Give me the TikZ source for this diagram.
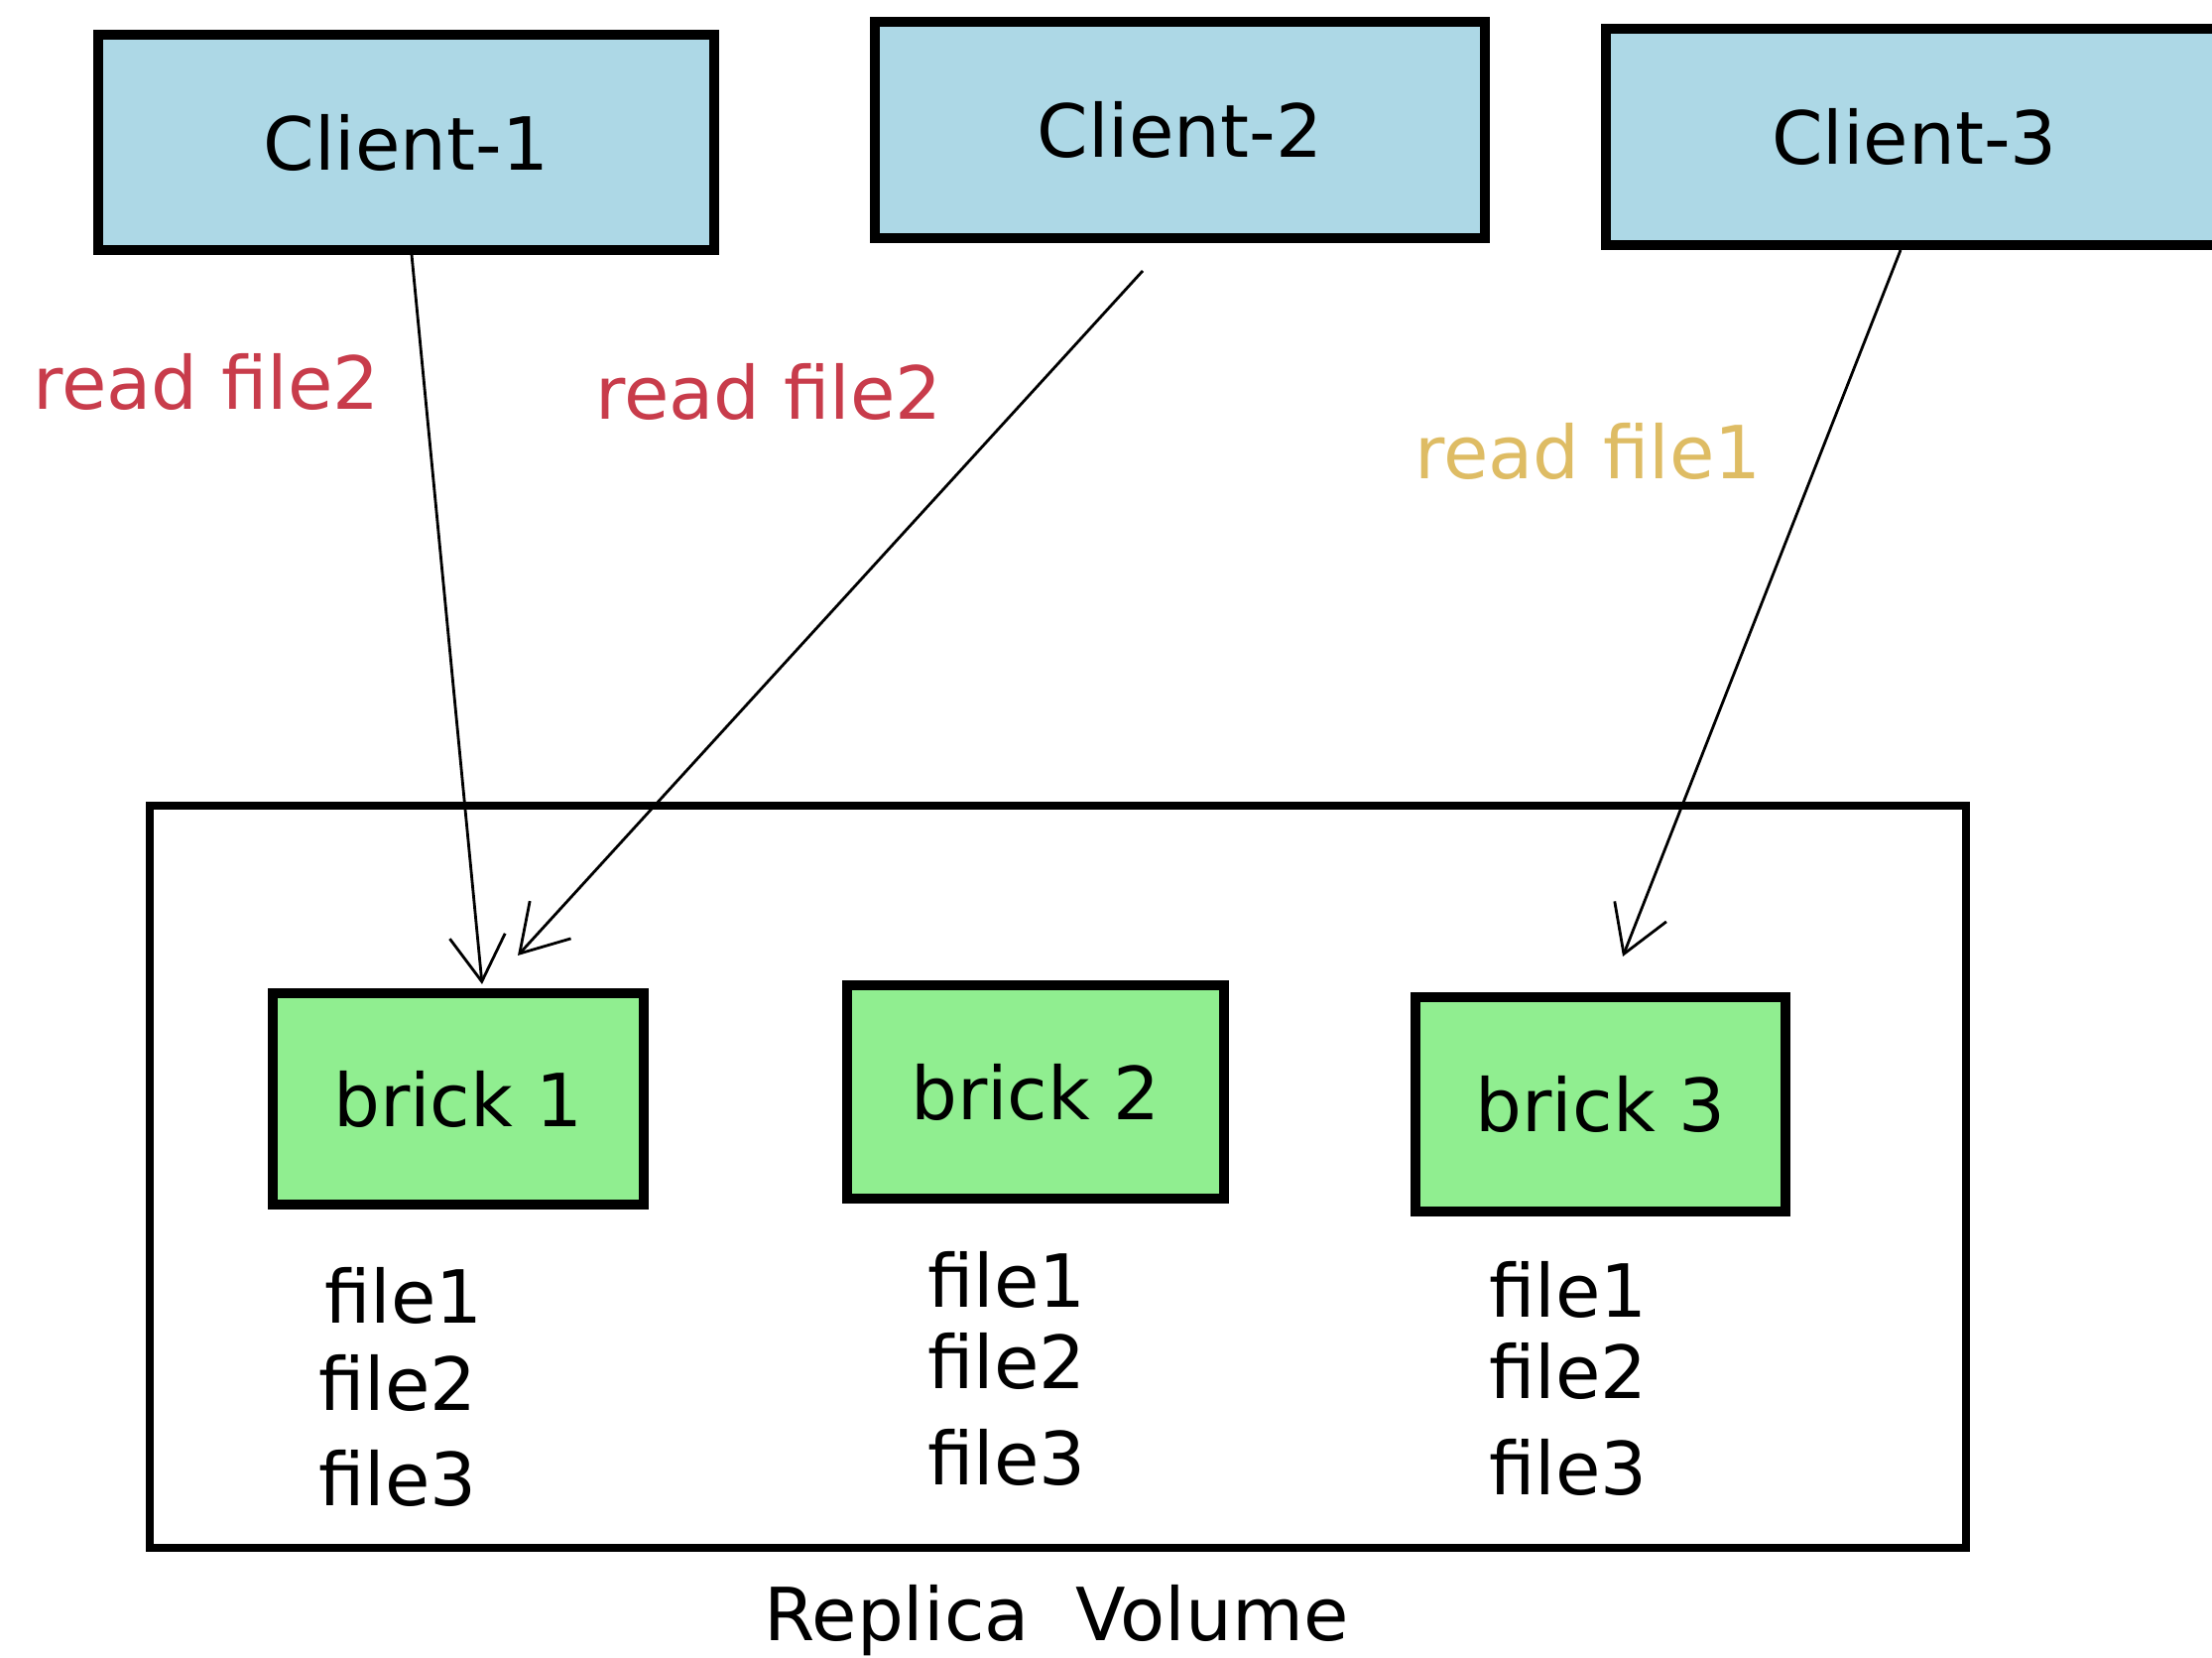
\documentclass[tikz,border=0pt]{standalone}
\usepackage{fontspec}
\setmainfont{DejaVu Sans}
\usetikzlibrary{arrows.meta,calc}
\definecolor{clientblue}{RGB}{173,216,230}
\definecolor{brickgreen}{RGB}{144,238,144}
\definecolor{readred}{RGB}{200,60,75}
\definecolor{readgold}{RGB}{222,188,100}
\begin{document}
\begin{tikzpicture}[x=0.01cm,y=-0.01cm,
  txt/.style={font=\fontsize{21}{25}\selectfont, inner sep=0pt},
  client/.style={txt, draw=black, line width=0.1cm, fill=clientblue, minimum height=2.16cm},
  brick/.style={txt, draw=black, line width=0.1cm, fill=brickgreen},
  volume/.style={draw=black, line width=0.08cm},
  conn/.style={line width=0.028cm, -{Straight Barb[length=0.46cm,width=0.56cm,line width=0.028cm]}},
  lbl/.style={txt}
]
\useasboundingbox (0,0) rectangle (2230,1671);
\clip (0,0) rectangle (2230,1671);

% clients
\node[client, minimum width=6.21cm] (c1) at (409.5,143.5) {Client-1};
\node[client, minimum width=6.15cm, minimum height=2.18cm] (c2) at (1189.5,131) {Client-2};
\node[client, minimum width=6.22cm, minimum height=2.18cm] (c3) at (1930,138) {Client-3};

% replica volume
\node[volume, minimum width=18.29cm, minimum height=7.48cm, inner sep=0pt] (vol) at (1066.5,1186) {};

% bricks
\node[brick, minimum width=3.74cm, minimum height=2.13cm] (b1) at (462,1107.5) {brick 1};
\node[brick, minimum width=3.80cm, minimum height=2.15cm] (b2) at (1044,1100.5) {brick 2};
\node[brick, minimum width=3.73cm, minimum height=2.16cm] (b3) at (1613.5,1113) {brick 3};

% file lists
\node[txt] (f11) at (407,1306) {file1};
\node[txt] (f12) at (401,1394) {file2};
\node[txt] (f13) at (401,1490) {file3};
\node[txt] (f21) at (1015,1290) {file1};
\node[txt] (f22) at (1015,1372) {file2};
\node[txt] (f23) at (1015,1469) {file3};
\node[txt] (f31) at (1581,1300) {file1};
\node[txt] (f32) at (1581,1382) {file2};
\node[txt] (f33) at (1581,1479) {file3};

% volume caption
\node[txt] (cap) at (1065,1633) {Replica\ \ Volume};

% labels
\node[lbl, text=readred] (l1) at (208,385) {read file2};
\node[lbl, text=readred] (l2) at (775,395) {read file2};
\node[lbl, text=readgold] (l3) at (1601,455) {read file1};

% connectors
\coordinate (s2) at (1152,273);
\coordinate (e2) at (522,963);
\coordinate (e3) at (1636,964);
\draw[conn] ($(c1.south)+(5.5,0)$) -- ($(b1.north)+(24,-4)$);
\draw[conn] (s2) -- (e2);
\draw[conn] ($(c3.south)+(-14,0)$) -- (e3);
\end{tikzpicture}
\end{document}
